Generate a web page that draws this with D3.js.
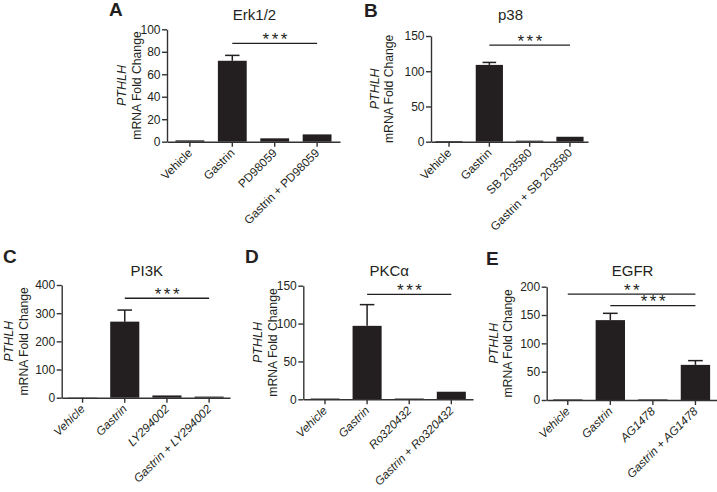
<!DOCTYPE html>
<html>
<head>
<meta charset="utf-8">
<script src="https://cdn.jsdelivr.net/npm/d3@7"></script>
<style>
  html, body { margin: 0; padding: 0; background: #fff; }
  svg { display: block; }
  text { font-family: "Liberation Sans", Arial, Helvetica, sans-serif; fill: #231f20; }
</style>
</head>
<body>
<svg id="chart" width="717" height="492"></svg>
<script>
// ---------------- DATA ----------------
const panelLetters = ["A", "B", "C", "D", "E"];
const panelTitles = ["Erk1/2", "p38", "PI3K", "PKC\u03B1", "EGFR"];

const categoriesA = ["Vehicle", "Gastrin", "PD98059", "Gastrin + PD98059"];
const categoriesB = ["Vehicle", "Gastrin", "SB 203580", "Gastrin + SB 203580"];
const categoriesC = ["Vehicle", "Gastrin", "LY294002", "Gastrin + LY294002"];
const categoriesD = ["Vehicle", "Gastrin", "Ro320432", "Gastrin + Ro320432"];
const categoriesE = ["Vehicle", "Gastrin", "AG1478", "Gastrin + AG1478"];

const valuesA = [1.2, 72, 3, 6.5];
const valuesB = [1, 109, 1.5, 7];
const valuesC = [1, 270, 8, 4];
const valuesD = [1, 97, 1, 10];
const valuesE = [1, 141, 1, 62];

const errorsA = [0.3, 4.8, 0.3, 0.4];
const errorsB = [0.2, 3.5, 0.3, 0.8];
const errorsC = [0.3, 41, 1.5, 0.5];
const errorsD = [0.2, 28, 0.2, 0.5];
const errorsE = [0.2, 12, 0.2, 7.5];

const yTicksA = [0, 20, 40, 60, 80, 100];
const yTicksB = [0, 50, 100, 150];
const yTicksC = [0, 100, 200, 300, 400];
const yTicksD = [0, 50, 100, 150];
const yTicksE = [0, 50, 100, 150, 200];

// significance brackets: [fromIndex, toIndex, yValue, label]
const sigA = [[1, 3, 87.5, "***"]];
const sigB = [[1, 3, 137, "***"]];
const sigC = [[1, 3, 353, "***"]];
const sigD = [[1, 3, 138.6, "***"]];
const sigE = [[0, 3, 187, "**"], [1, 3, 166.5, "***"]];

const yLabelItalic = "PTHLH";
const yLabelPlain = "mRNA Fold Change";

// ---------------- LAYOUT ----------------
const layout = [
  { x0: 167, x1: 340, yTop: 29.3, yBot: 141.7, pi: 0.32, po: 0.2, lab1: -41, lab2: -26, italicX: false,
    letter: [109, 16], titleY: 20 },
  { x0: 431, x1: 588, yTop: 36, yBot: 141.7, pi: 0.325, po: 0.11, lab1: -52, lab2: -38, italicX: false,
    letter: [364, 17], titleY: 20 },
  { x0: 61.7, x1: 230, yTop: 285, yBot: 397.7, pi: 0.31, po: 0.15, lab1: -48.5, lab2: -33.5, italicX: true,
    letter: [3, 263], titleY: 276 },
  { x0: 303.3, x1: 473, yTop: 285.7, yBot: 399.3, pi: 0.31, po: 0.17, lab1: -41.5, lab2: -26.5, italicX: true,
    letter: [245, 263], titleY: 276 },
  { x0: 546.7, x1: 716.5, yTop: 286.7, yBot: 400, pi: 0.31, po: 0.15, lab1: -49, lab2: -34.5, italicX: true,
    letter: [486, 265], titleY: 276 }
];

const panels = [
  { cats: categoriesA, vals: valuesA, errs: errorsA, ticks: yTicksA, sig: sigA },
  { cats: categoriesB, vals: valuesB, errs: errorsB, ticks: yTicksB, sig: sigB },
  { cats: categoriesC, vals: valuesC, errs: errorsC, ticks: yTicksC, sig: sigC },
  { cats: categoriesD, vals: valuesD, errs: errorsD, ticks: yTicksD, sig: sigD },
  { cats: categoriesE, vals: valuesE, errs: errorsE, ticks: yTicksE, sig: sigE }
];

const svg = d3.select("#chart");
const ink = "#231f20";
const axisColor = "#333";

panels.forEach((p, i) => {
  const L = layout[i];
  const g = svg.append("g");

  const x = d3.scaleBand().domain(p.cats).range([L.x0, L.x1])
    .paddingInner(L.pi).paddingOuter(L.po);
  const y = d3.scaleLinear().domain([0, d3.max(p.ticks)]).range([L.yBot, L.yTop]);

  // bars
  g.selectAll("rect.bar").data(p.cats).join("rect")
    .attr("class", "bar")
    .attr("x", d => x(d))
    .attr("width", x.bandwidth())
    .attr("y", (d, k) => y(p.vals[k]))
    .attr("height", (d, k) => y(0) - y(p.vals[k]))
    .attr("fill", ink);

  // error bars (upper only)
  const capW = x.bandwidth() * 0.5;
  p.cats.forEach((c, k) => {
    const cx = x(c) + x.bandwidth() / 2;
    const yv = y(p.vals[k]);
    const ye = y(p.vals[k] + p.errs[k]);
    if (yv - ye < 0.8) return;
    g.append("line").attr("x1", cx).attr("x2", cx).attr("y1", yv).attr("y2", ye)
      .attr("stroke", ink).attr("stroke-width", 1.5);
    g.append("line").attr("x1", cx - capW / 2).attr("x2", cx + capW / 2).attr("y1", ye).attr("y2", ye)
      .attr("stroke", ink).attr("stroke-width", 1.5);
  });

  // y axis
  const yAxis = d3.axisLeft(y).tickValues(p.ticks).tickSize(5).tickSizeOuter(0).tickPadding(1.5)
    .tickFormat(d3.format("d"));
  const gy = g.append("g").attr("transform", `translate(${L.x0},0)`).call(yAxis);
  gy.selectAll("path, line").attr("stroke", axisColor).attr("stroke-width", 1.4);
  gy.selectAll("text").style("font-size", "12px").attr("fill", ink)
    .style("font-family", "'Liberation Sans', Arial, sans-serif");

  // x axis
  const xAxis = d3.axisBottom(x).tickSize(5).tickSizeOuter(0).tickFormat("");
  const gx = g.append("g").attr("transform", `translate(0,${L.yBot})`).call(xAxis);
  gx.selectAll("path, line").attr("stroke", axisColor).attr("stroke-width", 1.4);

  // x labels rotated
  g.selectAll("text.xlab").data(p.cats).join("text")
    .attr("class", "xlab")
    .attr("transform", d => `translate(${x(d) + x.bandwidth() / 2 + 3},${L.yBot + 12}) rotate(-45)`)
    .attr("text-anchor", "end")
    .style("font-size", "11.8px")
    .style("font-style", L.italicX ? "italic" : "normal")
    .text(d => d);

  // y axis label (two lines)
  const yMid = (L.yTop + L.yBot) / 2;
  g.append("text")
    .attr("transform", `translate(${L.x0 + L.lab1},${yMid}) rotate(-90)`)
    .attr("text-anchor", "middle")
    .style("font-size", "12.5px").style("font-style", "italic")
    .text(yLabelItalic);
  g.append("text")
    .attr("transform", `translate(${L.x0 + L.lab2},${yMid}) rotate(-90)`)
    .attr("text-anchor", "middle")
    .style("font-size", "12.2px")
    .text(yLabelPlain);

  // title
  g.append("text")
    .attr("x", (L.x0 + L.x1) / 2 + 1)
    .attr("y", L.titleY)
    .attr("text-anchor", "middle")
    .style("font-size", "15px")
    .text(panelTitles[i]);

  // panel letter
  g.append("text")
    .attr("x", L.letter[0]).attr("y", L.letter[1])
    .style("font-size", "19px").style("font-weight", "bold")
    .text(panelLetters[i]);

  // significance brackets
  p.sig.forEach(s => {
    const xa = x(p.cats[s[0]]) + x.bandwidth() / 2;
    const xb = x(p.cats[s[1]]) + x.bandwidth() / 2;
    const ys = y(s[2]);
    g.append("line").attr("x1", xa).attr("x2", xb).attr("y1", ys).attr("y2", ys)
      .attr("stroke", ink).attr("stroke-width", 1.3);
    g.append("text")
      .attr("x", (xa + xb) / 2 + 1.5)
      .attr("y", ys + 1.5)
      .attr("text-anchor", "middle")
      .style("font-size", "17px")
      .style("letter-spacing", "2.5px")
      .text(s[3]);
  });
});
</script>
</body>
</html>
